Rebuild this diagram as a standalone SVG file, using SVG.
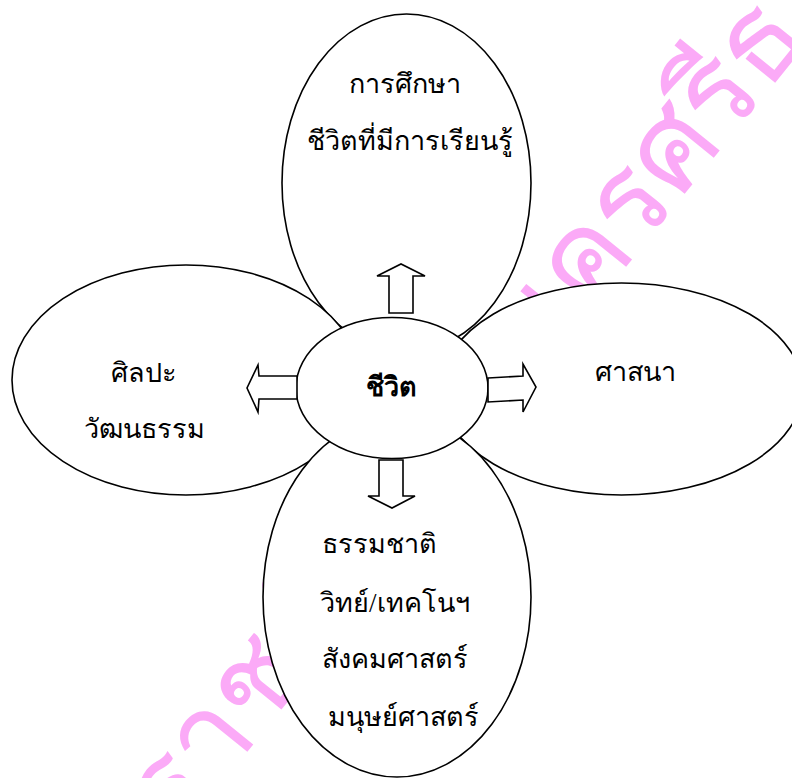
<svg xmlns="http://www.w3.org/2000/svg" width="792" height="778" viewBox="0 0 792 778">
<style>
.shape{fill:#fff;stroke:#000;stroke-width:1.6}
.arrow{fill:#fff;stroke:#000;stroke-width:1.6;stroke-linejoin:miter}
.lbl{font-family:"Liberation Serif",serif;font-size:27px;fill:#000}
.mid{text-anchor:middle}
.wm{font-family:"Liberation Sans",sans-serif;font-size:120px;fill:#FBAAF7}
</style>
<rect width="792" height="778" fill="#fff"/>
<g id="watermark">
<text class="wm" transform="translate(178,838) rotate(-51)">ราชภัฏ</text>
<text class="wm" transform="translate(536,378) rotate(-51)">นครศรีธ</text>
</g>
<g id="node-education">
<ellipse class="shape" cx="406.5" cy="183" rx="124.5" ry="169"/>
<text class="lbl mid" x="405" y="93">การศึกษา</text>
<text class="lbl mid" x="409.5" y="150">ชีวิตที่มีการเรียนรู้</text>
</g>
<g id="node-arts">
<ellipse class="shape" cx="186" cy="380" rx="174" ry="115"/>
<text class="lbl mid" x="144" y="382">ศิลปะ</text>
<text class="lbl mid" x="144" y="438">วัฒนธรรม</text>
</g>
<g id="node-religion">
<ellipse class="shape" cx="621.5" cy="389" rx="181" ry="106"/>
<text class="lbl mid" x="635" y="381">ศาสนา</text>
</g>
<g id="node-nature">
<ellipse class="shape" cx="397" cy="597" rx="134" ry="180"/>
<text class="lbl" x="322" y="553">ธรรมชาติ</text>
<text class="lbl" x="320" y="612">วิทย์/เทคโนฯ</text>
<text class="lbl" x="322" y="668">สังคมศาสตร์</text>
<text class="lbl" x="328" y="726">มนุษย์ศาสตร์</text>
</g>
<g id="node-life">
<ellipse class="shape" cx="392" cy="388" rx="96" ry="70.5"/>
<text class="lbl mid" x="391" y="396" font-weight="bold">ชีวิต</text>
</g>
<g id="connectors">
<polygon class="arrow" points="389,313 389,276 377,276 401,264 425,276 413,276 413,313"/>
<polygon class="arrow" points="488,378 523,376 523,364 536,387 523,412 523,400 488,402"/>
<polygon class="arrow" points="297,376 259,376 258,365 247,388 258,412 259,399 297,399"/>
<polygon class="arrow" points="379,460 379,496 368,496 392,508 415,496 403,496 403,460"/>
</g>
</svg>
